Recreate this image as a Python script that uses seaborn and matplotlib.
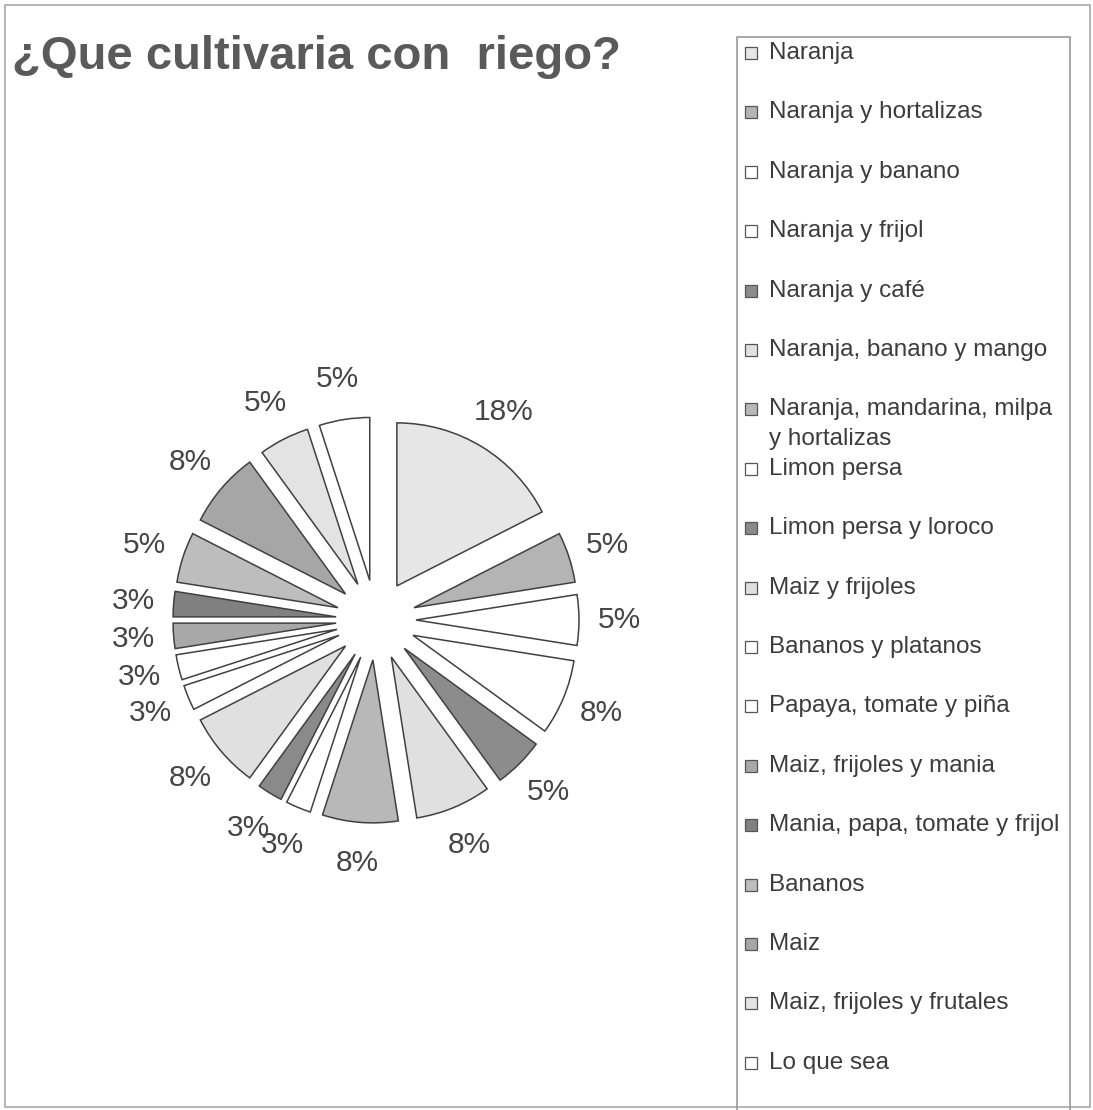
import math
import matplotlib
matplotlib.use("Agg")
import matplotlib.pyplot as plt
from matplotlib.patches import Rectangle
import seaborn as sns

# ---------------- data ----------------
categories = [
    "Naranja",
    "Naranja y hortalizas",
    "Naranja y banano",
    "Naranja y frijol",
    "Naranja y café",
    "Naranja, banano y mango",
    "Naranja, mandarina, milpa\ny hortalizas",
    "Limon persa",
    "Limon persa y loroco",
    "Maiz y frijoles",
    "Bananos y platanos",
    "Papaya, tomate y piña",
    "Maiz, frijoles y mania",
    "Mania, papa, tomate y frijol",
    "Bananos",
    "Maiz",
    "Maiz, frijoles y frutales",
    "Lo que sea",
]
counts = [7, 2, 2, 3, 2, 3, 3, 1, 1, 3, 1, 1, 1, 1, 2, 3, 2, 2]
slice_colors = [
    "#e6e6e6", "#b4b4b4", "#ffffff", "#ffffff", "#8c8c8c", "#e0e0e0",
    "#b8b8b8", "#ffffff", "#8a8a8a", "#e0e0e0", "#ffffff", "#ffffff",
    "#a8a8a8", "#808080", "#bdbdbd", "#a6a6a6", "#e3e3e3", "#ffffff",
]
title = "¿Que cultivaria con  riego?"

# ---------------- style ----------------
sns.set_theme(style="white")
plt.rcParams["font.family"] = ["Liberation Sans", "DejaVu Sans"]

W, H = 1093, 1110
fig = plt.figure(figsize=(W / 100, H / 100), dpi=100)
fig.patch.set_facecolor("white")
ax = fig.add_axes([0, 0, 1, 1])


def Y(y):
    return H - y


def pct_fmt(p):
    return f"{math.floor(p + 0.5 + 1e-9)}%"


R = 163
wedges, texts, autotexts = ax.pie(
    counts,
    explode=[40] * len(counts),
    radius=R,
    center=(376, Y(620)),
    startangle=90,
    counterclock=False,
    colors=slice_colors,
    autopct=pct_fmt,
    pctdistance=1.25,
    wedgeprops=dict(edgecolor="#404040", linewidth=1.1),
    textprops=dict(fontsize=21.5, color="#454545"),
)
ax.set_xlim(0, W)
ax.set_ylim(0, H)
ax.set_aspect("equal")
ax.axis("off")

# title
ax.text(12, Y(57), title, fontsize=34, fontweight="bold", color="#5a5a5a",
        ha="left", va="center")

# outer chart border
ax.add_patch(Rectangle((5, Y(1107)), 1085, 1102, fill=False,
                       edgecolor="#a8a8a8", linewidth=1.2, clip_on=False))

# legend frame (extends below the image bottom)
ax.add_patch(Rectangle((737, Y(1130)), 333, 1130 - 37, fill=False,
                       edgecolor="#9a9a9a", linewidth=1.2))

# legend entries
y0, step = 53, 59.4
for i, (lab, col) in enumerate(zip(categories, slice_colors)):
    yc = y0 + i * step
    ax.add_patch(Rectangle((745, Y(yc + 6)), 12, 12, facecolor=col,
                           edgecolor="#555555", linewidth=0.9))
    lines = lab.split("\n")
    for j, ln in enumerate(lines):
        ax.text(769, Y(yc + j * 30), ln, fontsize=17.5, color="#3c3c3c",
                ha="left", va="center")

fig.savefig("out.png", dpi=100, facecolor="white")
